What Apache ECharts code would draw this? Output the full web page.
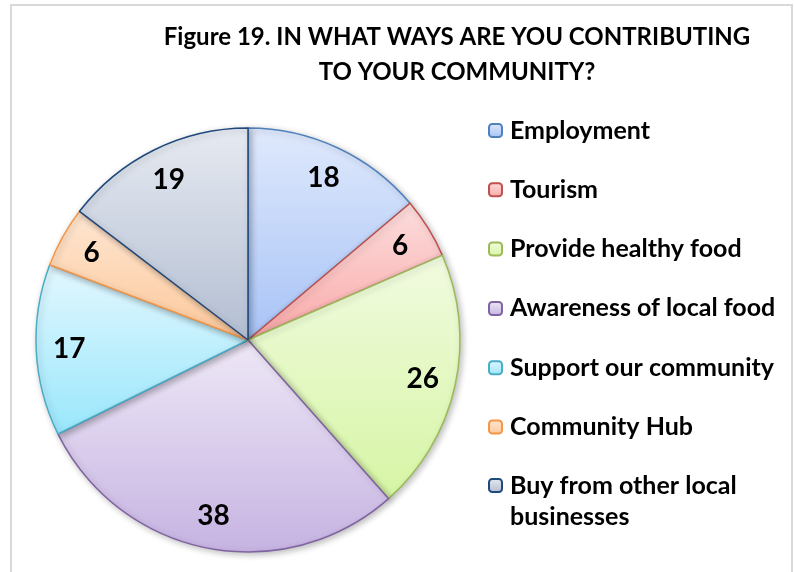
<!DOCTYPE html>
<html><head><meta charset="utf-8">
<script src="https://cdn.jsdelivr.net/npm/echarts@6/dist/echarts.min.js"></script>
<style>html,body{margin:0;padding:0;background:#fff}#c{width:794px;height:572px}</style>
</head><body><div id="c"></div>
<script>
const categories = ['Employment','Tourism','Provide healthy food','Awareness of local food','Support our community','Community Hub','Buy from other local businesses'];
const values = [18, 6, 26, 38, 17, 6, 19];
const legendLabels = ['Employment','Tourism','Provide healthy food','Awareness of local food','Support our community','Community Hub','\nBuy from other local\nbusinesses'];
const titleText = 'Figure 19. IN WHAT WAYS ARE YOU CONTRIBUTING\nTO YOUR COMMUNITY?';

const topColors = ['#dfe9fc','#fcdddd','#f1fbe0','#eee8f6','#e3f7fe','#fee6d2','#e6eaf1'];
const botColors = ['#a8c3f6','#f9a9a8','#d6f5a4','#c6b3e2','#99e7fc','#fcc89a','#b3bed2'];
const borders = ['#4f81bd','#c0504d','#9bbb59','#8064a2','#4bacc6','#f79646','#1f497d'];

const grad = i => ({type:'linear',x:0,y:0,x2:0,y2:1,colorStops:[{offset:0,color:topColors[i]},{offset:1,color:botColors[i]}]});

const pieData = categories.map((n,i)=>({name:n,value:values[i],itemStyle:{color:grad(i),borderColor:borders[i],borderWidth:1.5}}));
const labelData = categories.map((n,i)=>({name:n,value:values[i]}));

const FONT = 'Lato';
const legendText = {fontFamily:FONT,fontWeight:'bold',fontSize:25,color:'#000',lineHeight:24,padding:[0,0,0,3]};
const chart = echarts.init(document.getElementById('c'), null, {renderer:'canvas'});
chart.setOption({
  animation:false,
  backgroundColor:'#fff',
  graphic:[{type:'rect',shape:{x:11,y:5,width:781,height:580},style:{fill:'none',stroke:'#d9d9d9',lineWidth:2},silent:true}],
  title:{text:titleText,left:452,top:15,textAlign:'center',
    textStyle:{fontFamily:FONT,fontWeight:'bold',fontSize:24,color:'#000',lineHeight:35}},
  legend:[{
    orient:'vertical',left:488,top:118,padding:0,itemWidth:13,itemHeight:13,itemGap:34.3,
    data:categories.slice(0,6),
    textStyle:legendText
  },{
    orient:'vertical',left:488,top:439,padding:0,itemWidth:13,itemHeight:13,
    data:[categories[6]],
    formatter:name=>legendLabels[categories.indexOf(name)],
    textStyle:Object.assign({},legendText,{lineHeight:31})
  }],
  series:[{
    type:'pie',center:[248,340],radius:[0,212],startAngle:90,clockwise:true,
    data:pieData,label:{show:false},labelLine:{show:false},silent:true,
    itemStyle:{shadowBlur:6,shadowColor:'rgba(0,0,0,0.25)',shadowOffsetX:2,shadowOffsetY:2}
  },{
    type:'pie',center:[248,340],radius:[140,212],startAngle:90,clockwise:true,
    data:labelData,silent:true,legendHoverLink:false,
    itemStyle:{color:'rgba(0,0,0,0)',borderWidth:0},
    label:{show:true,position:'inside',formatter:'{c}',fontFamily:FONT,fontWeight:'bold',fontSize:28,color:'#000'},
    labelLine:{show:false}
  }]
});
</script></body></html>
